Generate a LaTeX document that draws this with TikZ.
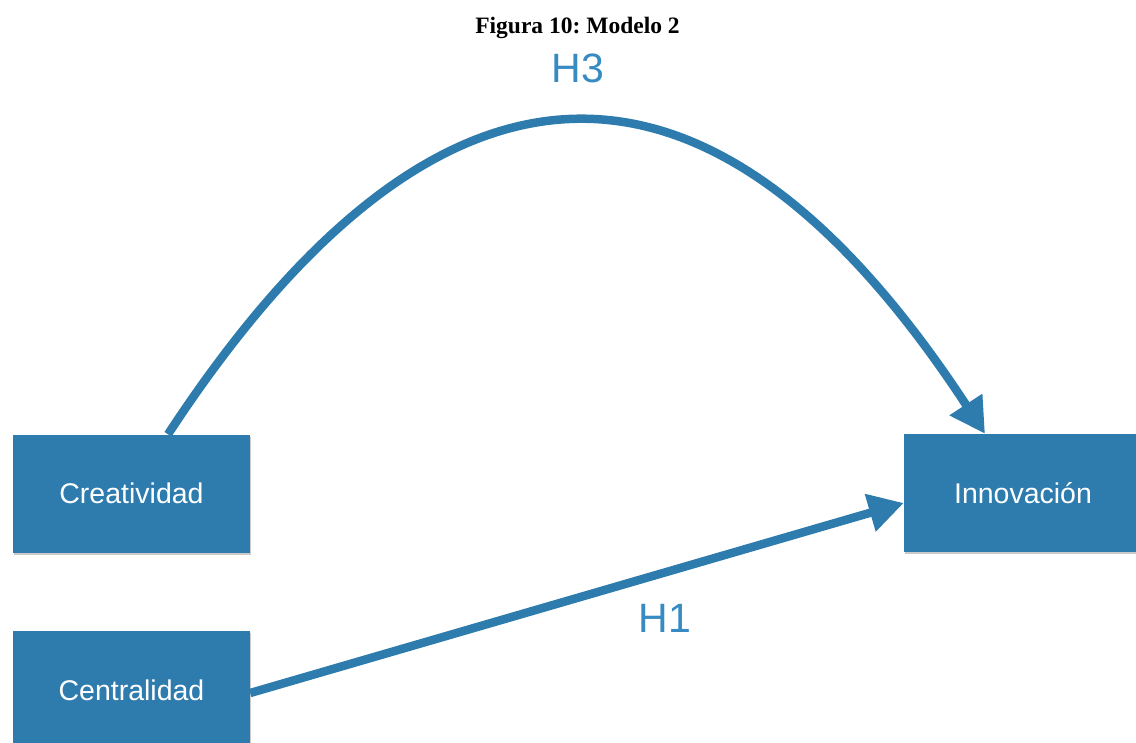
\documentclass[tikz,border=0pt]{standalone}
\usepackage{fontspec}
\setmainfont{Liberation Serif}
\newfontfamily\hfont{Liberation Sans}
\usetikzlibrary{arrows.meta,shadows}
\definecolor{boxblue}{RGB}{46,123,174}
\definecolor{linkblue}{RGB}{46,124,174}
\definecolor{labblue}{RGB}{56,138,194}
\frenchspacing
\begin{document}
\begin{tikzpicture}[x=1pt,y=-1pt,
  varbox/.style={fill=boxblue, draw=none, inner sep=0pt, minimum width=237pt, minimum height=118pt,
    text=white, font=\hfont\fontsize{28.5}{30}\selectfont,
    drop shadow={shadow xshift=1pt, shadow yshift=-2pt, opacity=0.35, fill=black!60}},
  link/.style={draw=linkblue, line width=8.5pt, -{Triangle[length=35pt,width=37pt]}},
  hlabel/.style={text=labblue, font=\hfont\fontsize{41}{44}\selectfont, inner sep=0pt}]
\useasboundingbox (0,0) rectangle (1136,743);
\node[anchor=base, font=\bfseries\fontsize{23.5}{26}\selectfont] (title) at (577.5,33.5) {Figura 10: Modelo 2};
\node[varbox] (crea) at (131.5,493.5) {Creatividad};
\node[varbox] (cent) at (131.5,690) {Centralidad};
\node[varbox, minimum width=238pt] (inno) at (1023,493) {Innovación};
\node[hlabel] (h3) at (578,68) {H3};
\node[hlabel] (h1) at (665,618) {H1};
\draw[link] ([xshift=36.5pt]crea.north) .. controls (440.7,18.3) and (713,18.3) .. ([xshift=-38pt]inno.north);
\draw[link] ([yshift=-3pt]cent.east) -- ([yshift=-10pt]inno.west);
\end{tikzpicture}
\end{document}
